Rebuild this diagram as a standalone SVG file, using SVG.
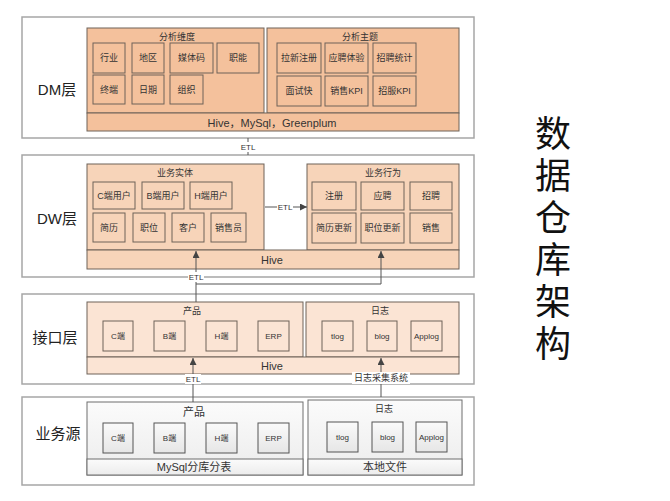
<svg xmlns="http://www.w3.org/2000/svg" width="670" height="501" viewBox="0 0 670 501">
<defs>
<style>
text{font-family:"Liberation Sans","Noto Sans CJK SC",sans-serif;fill:#333;text-anchor:middle;dominant-baseline:central}
.outer{fill:#fff;stroke:#a6a6a6;stroke-width:1.5}
.layer{font-size:15px;fill:#222}
.s{font-size:8px}
.m{font-size:9px}
.l{font-size:11px}
.dm{fill:#f4c19c;stroke:#6e6259;stroke-width:1}
.dw{fill:#f7d4b9;stroke:#6e6259;stroke-width:1}
.jk{fill:#fbe4d4;stroke:#6e6259;stroke-width:1}
.ys{fill:url(#g);stroke:#6e6e6e;stroke-width:1}
.yb{fill:url(#g2);stroke:#555;stroke-width:1}
.c{fill:none;stroke:#555;stroke-width:1}
.lb{fill:#fff}
.title{font-family:"Noto Sans CJK SC",sans-serif;font-size:36px;fill:#111;writing-mode:vertical-rl;text-anchor:start;letter-spacing:6px}
</style>
<linearGradient id="g" x1="0" y1="0" x2="0" y2="1"><stop offset="0" stop-color="#fbfbfb"/><stop offset="1" stop-color="#ececec"/></linearGradient>
<linearGradient id="g2" x1="0" y1="0" x2="0" y2="1"><stop offset="0" stop-color="#fafafa"/><stop offset="1" stop-color="#e6e6e6"/></linearGradient>
<marker id="ah" viewBox="0 0 10 10" refX="10" refY="5" markerWidth="7" markerHeight="7" orient="auto"><path d="M0,0 L10,5 L0,10 z" fill="#444"/></marker>
</defs>

<!-- DM layer -->
<g id="dm-layer">
<rect class="outer" x="22" y="17" width="452" height="121"/>
<text class="layer" x="57" y="89">DM层</text>
<rect class="dm" x="87" y="28" width="177" height="85"/>
<rect class="dm" x="267" y="28" width="192" height="85"/>
<rect class="dm" x="87" y="113" width="372" height="18"/>
<text class="l" x="272" y="123">Hive，MySql，Greenplum</text>
<text class="m" x="177" y="37">分析维度</text>
<text class="m" x="360" y="37">分析主题</text>
</g>
<g id="dm-dims">
<rect class="dm" x="93" y="43" width="32" height="30"/><text class="m" x="109" y="58">行业</text>
<rect class="dm" x="132" y="43" width="32" height="30"/><text class="m" x="148" y="58">地区</text>
<rect class="dm" x="170" y="43" width="43" height="30"/><text class="m" x="191.5" y="58">媒体码</text>
<rect class="dm" x="217" y="43" width="42" height="30"/><text class="m" x="238" y="58">职能</text>
<rect class="dm" x="93" y="75" width="32" height="29"/><text class="m" x="109" y="89.5">终端</text>
<rect class="dm" x="132" y="75" width="32" height="29"/><text class="m" x="148" y="89.5">日期</text>
<rect class="dm" x="170" y="75" width="33" height="29"/><text class="m" x="186.5" y="89.5">组织</text>
</g>
<g id="dm-topics">
<rect class="dm" x="277" y="43" width="44" height="30"/><text class="m" x="299" y="58">拉新注册</text>
<rect class="dm" x="325" y="43" width="43" height="30"/><text class="m" x="346.5" y="58">应聘体验</text>
<rect class="dm" x="373" y="43" width="43" height="30"/><text class="m" x="394.5" y="58">招聘统计</text>
<rect class="dm" x="277" y="76" width="44" height="30"/><text class="m" x="299" y="91">面试快</text>
<rect class="dm" x="325" y="76" width="43" height="30"/><text class="m" x="346.5" y="91">销售KPI</text>
<rect class="dm" x="373" y="76" width="43" height="30"/><text class="m" x="394.5" y="91">招服KPI</text>
</g>

<!-- DW layer -->
<g id="dw-layer">
<rect class="outer" x="22" y="155" width="452" height="122"/>
<text class="layer" x="57" y="218">DW层</text>
<rect class="dw" x="87" y="164" width="177" height="86"/>
<rect class="dw" x="307" y="164" width="152" height="86"/>
<rect class="dw" x="87" y="250" width="372" height="19"/>
<text class="l" x="272" y="259.5">Hive</text>
<text class="m" x="175" y="173">业务实体</text>
<text class="m" x="383" y="173">业务行为</text>
</g>
<g id="dw-entities">
<rect class="dw" x="93" y="182" width="42" height="27"/><text class="m" x="114" y="195.5">C端用户</text>
<rect class="dw" x="142" y="182" width="42" height="27"/><text class="m" x="163" y="195.5">B端用户</text>
<rect class="dw" x="190" y="182" width="42" height="27"/><text class="m" x="211" y="195.5">H端用户</text>
<rect class="dw" x="93" y="213" width="32" height="29"/><text class="m" x="109" y="227.5">简历</text>
<rect class="dw" x="133" y="213" width="32" height="29"/><text class="m" x="149" y="227.5">职位</text>
<rect class="dw" x="172" y="213" width="32" height="29"/><text class="m" x="188" y="227.5">客户</text>
<rect class="dw" x="211" y="213" width="35" height="29"/><text class="m" x="228.5" y="227.5">销售员</text>
</g>
<g id="dw-behaviors">
<rect class="dw" x="312" y="182" width="44" height="28"/><text class="m" x="334" y="196">注册</text>
<rect class="dw" x="361" y="182" width="43" height="28"/><text class="m" x="382.5" y="196">应聘</text>
<rect class="dw" x="410" y="182" width="42" height="28"/><text class="m" x="431" y="196">招聘</text>
<rect class="dw" x="312" y="213" width="44" height="30"/><text class="m" x="334" y="228">简历更新</text>
<rect class="dw" x="361" y="213" width="43" height="30"/><text class="m" x="382.5" y="228">职位更新</text>
<rect class="dw" x="410" y="213" width="42" height="30"/><text class="m" x="431" y="228">销售</text>
</g>

<!-- Interface layer -->
<g id="jk-layer">
<rect class="outer" x="22" y="294" width="452" height="90"/>
<text class="layer" x="55" y="337">接口层</text>
<rect class="jk" x="87" y="302" width="216" height="55"/>
<rect class="jk" x="306" y="302" width="153" height="55"/>
<rect class="jk" x="87" y="357" width="372" height="17"/>
<text class="l" x="272" y="366">Hive</text>
<text class="m" x="192" y="311">产品</text>
<text class="m" x="380" y="311">日志</text>
</g>
<g id="jk-product">
<rect class="jk" x="103" y="321" width="30" height="30"/><text class="s" x="118" y="336">C端</text>
<rect class="jk" x="154" y="321" width="31" height="30"/><text class="s" x="169.5" y="336">B端</text>
<rect class="jk" x="206" y="321" width="31" height="30"/><text class="s" x="221.5" y="336">H端</text>
<rect class="jk" x="258" y="321" width="31" height="30"/><text class="s" x="273.5" y="336">ERP</text>
</g>
<g id="jk-log">
<rect class="jk" x="322" y="321" width="31" height="30"/><text class="s" x="337.5" y="336">tlog</text>
<rect class="jk" x="367" y="321" width="30" height="30"/><text class="s" x="382" y="336">blog</text>
<rect class="jk" x="411" y="321" width="31" height="30"/><text class="s" x="426.5" y="336">Applog</text>
</g>

<!-- Business source layer -->
<g id="ys-layer">
<rect class="outer" x="22" y="397" width="452" height="88"/>
<text class="layer" x="58" y="433">业务源</text>
<rect class="ys" x="87" y="402" width="216" height="73"/>
<rect class="ys" x="87" y="459" width="216" height="16"/>
<rect class="ys" x="308" y="400" width="154" height="75"/>
<rect class="ys" x="308" y="459" width="154" height="16"/>
<text class="l" x="194" y="412">产品</text>
<text class="l" x="194" y="467">MySql分库分表</text>
<text class="m" x="384" y="409">日志</text>
<text class="l" x="385" y="467">本地文件</text>
</g>
<g id="ys-product">
<rect class="yb" x="103" y="423" width="30" height="30"/><text class="s" x="118" y="438">C端</text>
<rect class="yb" x="154" y="423" width="31" height="30"/><text class="s" x="169.5" y="438">B端</text>
<rect class="yb" x="206" y="423" width="31" height="30"/><text class="s" x="221.5" y="438">H端</text>
<rect class="yb" x="258" y="423" width="31" height="30"/><text class="s" x="273.5" y="438">ERP</text>
</g>
<g id="ys-log">
<rect class="yb" x="327" y="422" width="31" height="30"/><text class="s" x="342.5" y="437">tlog</text>
<rect class="yb" x="372" y="422" width="31" height="30"/><text class="s" x="387.5" y="437">blog</text>
<rect class="yb" x="416" y="422" width="31" height="30"/><text class="s" x="431.5" y="437">Applog</text>
</g>

<!-- Connectors -->
<g id="connectors">
<line class="c" x1="248" y1="138" x2="248" y2="155"/>
<rect class="lb" x="240" y="142" width="16" height="10"/>
<text class="s" x="248" y="147">ETL</text>

<line class="c" x1="265" y1="207" x2="307" y2="207" marker-end="url(#ah)"/>
<rect class="lb" x="277" y="202" width="16" height="10"/>
<text class="s" x="285" y="207">ETL</text>

<polyline class="c" points="196,302 196,284 381,284 381,251" marker-end="url(#ah)"/>
<line class="c" x1="196" y1="284" x2="196" y2="251" marker-end="url(#ah)"/>
<rect class="lb" x="188" y="272" width="16" height="10"/>
<text class="s" x="196" y="277">ETL</text>

<line class="c" x1="193" y1="402" x2="193" y2="358" marker-end="url(#ah)"/>
<rect class="lb" x="185" y="374" width="16" height="10"/>
<text class="s" x="193" y="379">ETL</text>

<line class="c" x1="381" y1="397" x2="381" y2="358" marker-end="url(#ah)"/>
<rect class="lb" x="352" y="372" width="58" height="12"/>
<text class="m" x="381" y="378">日志采集系统</text>
</g>

<!-- Title -->
<g id="title">
<text class="title" x="553" y="115">数据仓库架构</text>
</g>
</svg>
